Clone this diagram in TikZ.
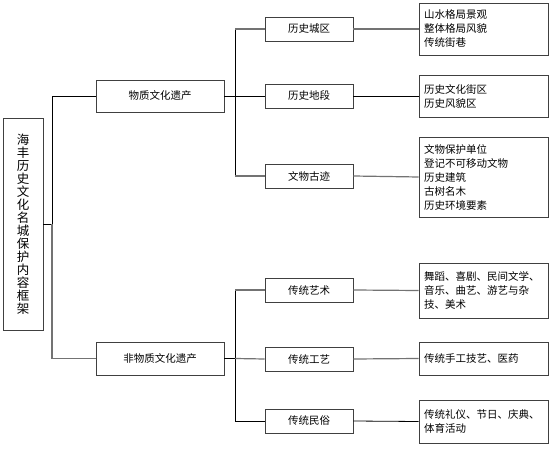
\documentclass[tikz,border=0pt]{standalone}
\usepackage{fontspec}
\setmainfont{Noto Sans CJK SC}
\usetikzlibrary{shadows}
\begin{document}
\begin{tikzpicture}[x=1pt,y=-1pt,
  box/.style={draw=black!75,line width=0.8pt,fill=white,inner sep=0pt,
    font=\fontsize{10.5}{14}\selectfont,
    drop shadow={shadow xshift=1.2pt,shadow yshift=-1.2pt,opacity=1,fill=black!45}},
  mid/.style={box,align=center},
  detail/.style={box,minimum width=129pt,text width=119pt,align=left,inner xsep=5pt},
  gline/.style={draw=black!55,line width=1.2pt},
  bline/.style={draw=black,line width=0.8pt}]
\useasboundingbox (0,0) rectangle (554,449);
% root
\node[box,minimum width=40pt,minimum height=212pt,font=\fontsize{12.5}{13}\selectfont,align=center] (root) at (23,224)
 {海\\丰\\历\\史\\文\\化\\名\\城\\保\\护\\内\\容\\框\\架};
% level 1
\node[mid,minimum width=128pt,minimum height=32pt] (mat) at (160,96) {物质文化遗产};
\node[mid,minimum width=128pt,minimum height=33pt] (imm) at (160,358.5) {非物质文化遗产};
% level 2
\node[mid,minimum width=88pt,minimum height=24pt] (a1) at (309,29) {历史城区};
\node[mid,minimum width=88pt,minimum height=24pt] (a2) at (309,96) {历史地段};
\node[mid,minimum width=88pt,minimum height=24pt] (a3) at (309,176) {文物古迹};
\node[mid,minimum width=88pt,minimum height=24pt] (b1) at (309,290) {传统艺术};
\node[mid,minimum width=88pt,minimum height=24pt] (b2) at (309,359) {传统工艺};
\node[mid,minimum width=88pt,minimum height=24pt] (b3) at (309,421) {传统民俗};
% details
\node[detail,minimum height=52pt] (d1) at (483.5,29) {山水格局景观\\整体格局风貌\\传统街巷};
\node[detail,minimum height=42pt] (d2) at (483.5,96) {历史文化街区\\历史风貌区};
\node[detail,minimum height=80pt] (d3) at (483.5,177) {文物保护单位\\登记不可移动文物\\历史建筑\\古树名木\\历史环境要素};
\node[detail,minimum height=55pt] (e1) at (483.5,290.5) {舞蹈、喜剧、民间文学、\\音乐、曲艺、游艺与杂\\技、美术};
\node[detail,minimum height=33pt] (e2) at (483.5,358.5) {传统手工技艺、医药};
\node[detail,minimum height=43pt] (e3) at (483.5,421.5) {传统礼仪、节日、庆典、\\体育活动};
% junction coordinates
\coordinate (j0) at (52,224);
\coordinate (j1) at (235,96);
\coordinate (j2) at (235,358.5);
% connectors
\begin{scope}[on background layer/.try]
\draw[bline] (root.east) -- (j0) |- (mat.west);
\draw[gline] (j0) |- (imm.west);
\draw[bline] (mat.east) -- (j1);
\draw[bline] (j1 |- a1.west) -- (j1 |- a3.west);
\draw[gline] (j1 |- a1.west) -- (a1.west);
\draw[bline] (j1) -- (a2.west);
\draw[gline] (j1 |- a3.west) -- (a3.west);
\draw[gline] (a1.east) -- (d1.west);
\draw[bline] (a2.east) -- (d2.west);
\draw[gline] (a3.east) -- (d3.west);
\draw[bline,line width=1.4pt] (imm.east) -- (j2);
\draw[bline] (j2 |- b1.west) -- (j2 |- b3.west);
\draw[gline] (j2 |- b1.west) -- (b1.west);
\draw[gline] (j2) -- (b2.west);
\draw[bline] (j2 |- b3.west) -- (b3.west);
\draw[gline] (b1.east) -- (e1.west);
\draw[gline] (b2.east) -- (e2.west);
\draw[bline] (b3.east) -- (e3.west);
\end{scope}
\end{tikzpicture}
\end{document}
